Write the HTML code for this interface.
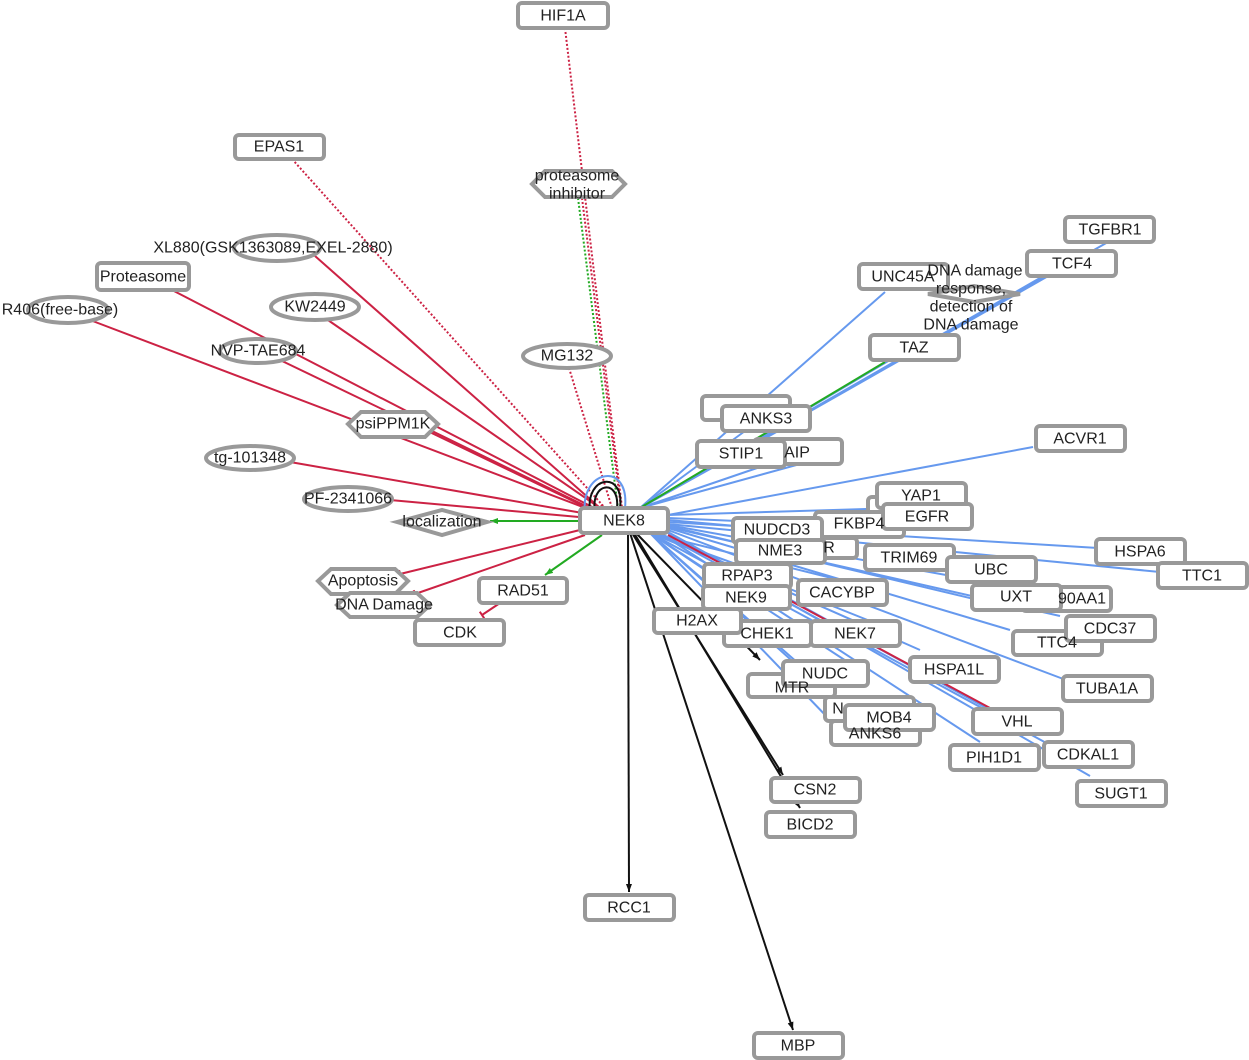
<!DOCTYPE html>
<html><head><meta charset="utf-8"><style>
html,body{margin:0;padding:0;background:#fff;width:1249px;height:1060px;overflow:hidden}
svg text{font-family:"Liberation Sans",sans-serif;font-size:16px;fill:#222;text-anchor:middle;dominant-baseline:central}
.n{fill:#fff;stroke:#999;stroke-width:4}
.b{stroke:#6699ee;stroke-width:2;fill:none}
.r{stroke:#cc2244;stroke-width:2;fill:none}
.rd{stroke:#cc2244;stroke-width:2;fill:none;stroke-dasharray:2 2}
.gd{stroke:#22aa22;stroke-width:2;fill:none;stroke-dasharray:2 2}
.g{stroke:#22aa22;stroke-width:2;fill:none}
.k{stroke:#111;stroke-width:2;fill:none}
</style></head><body>
<svg width="1249" height="1060" viewBox="0 0 1249 1060">
<defs>
<marker id="ak" markerUnits="userSpaceOnUse" markerWidth="9" markerHeight="9" refX="8" refY="4" orient="auto"><path d="M0,1 L8,4 L0,7z" fill="#111"/></marker>
<marker id="ag" markerUnits="userSpaceOnUse" markerWidth="9" markerHeight="9" refX="8" refY="4" orient="auto"><path d="M0,1 L8,4 L0,7z" fill="#22aa22"/></marker>
<marker id="tb" markerUnits="userSpaceOnUse" markerWidth="4" markerHeight="10" refX="2" refY="5" orient="auto"><path d="M2,1 L2,9" stroke="#cc2244" stroke-width="2"/></marker>
</defs>
<path class="rd" d="M565,28 L622,508"/>
<path class="gd" d="M578,198 L618,508"/>
<path class="rd" d="M582,198 L621,508"/>
<path class="rd" d="M292,159 L605,508"/>
<path class="rd" d="M569,368 L612,508"/>
<g class="r" marker-end="url(#tb)">
<path d="M315,256 L600,508"/><path d="M172,290 L598,510"/><path d="M90,320 L596,512"/>
<path d="M325,318 L600,508"/><path d="M280,360 L596,512"/><path d="M430,430 L598,512"/>
<path d="M290,462 L594,515"/><path d="M390,500 L590,518"/>
<path d="M580,530 L400,574"/><path d="M585,535 L415,594"/><path d="M500,603 L482,615"/>
</g>
<path class="g" d="M580,521 L490,521" marker-end="url(#ag)"/>
<path class="g" d="M602,535 L545,575" marker-end="url(#ag)"/>
<path class="b" d="M585,512 C580,470 630,460 625,508"/>
<path class="k" d="M590,512 C585,475 625,470 620,508"/>
<path class="k" d="M595,512 C590,482 620,478 617,508"/>
<g class="k" marker-end="url(#ak)">
<path d="M628,533 L629,892"/><path d="M630,533 L793,1030"/><path d="M632,533 L783,775"/><path d="M634,533 L800,808"/>
<path d="M636,533 L760,660"/>
</g>
<g class="b">
<path d="M640,508 L885,292"/><path d="M640,508 L1045,276"/><path d="M640,508 L1040,278"/><path d="M640,508 L1108,242"/>
<path d="M640,508 L890,360"/><path d="M640,508 L760,420"/><path d="M640,508 L780,430"/><path d="M640,508 L800,464"/>
<path d="M640,508 L760,467"/><path d="M668,515 L1033,447"/><path d="M668,515 L900,508"/><path d="M668,518 L920,529"/>
<path d="M668,520 L860,537"/><path d="M668,522 L1098,548"/><path d="M668,524 L1160,572"/><path d="M668,525 L985,582"/>
<path d="M668,526 L1020,610"/><path d="M668,527 L1060,616"/><path d="M668,528 L1010,630"/><path d="M668,530 L1066,680"/>
<path d="M668,532 L990,710"/><path d="M668,533 L1090,776"/><path d="M660,533 L1050,745"/><path d="M660,533 L980,742"/>
<path d="M655,533 L920,650"/><path d="M650,533 L860,670"/><path d="M650,533 L840,700"/><path d="M650,533 L830,720"/>
<path d="M650,533 L800,668"/><path d="M650,533 L780,580"/><path d="M650,533 L750,600"/><path d="M650,533 L880,590"/>
<path d="M650,533 L830,630"/><path d="M650,533 L880,625"/>
</g>
<path class="g" d="M640,508 L885,362"/>
<path class="r" d="M668,535 L990,708"/>
<g class="n">
<rect x="518" y="3" width="90" height="25" rx="4"/>
<rect x="235" y="135" width="89" height="24" rx="4"/>
<rect x="97" y="263" width="92" height="27" rx="4"/>
<rect x="1065" y="217" width="89" height="25" rx="4"/>
<rect x="1027" y="251" width="89" height="25" rx="4"/>
<rect x="859" y="264" width="89" height="25" rx="4"/>
<rect x="870" y="335" width="89" height="25" rx="4"/>
<rect x="702" y="396" width="88" height="24" rx="4"/>
<rect x="722" y="406" width="88" height="25" rx="4"/>
<rect x="754" y="439" width="88" height="25" rx="4"/>
<rect x="697" y="441" width="88" height="26" rx="4"/>
<rect x="1036" y="426" width="89" height="25" rx="4"/>
<rect x="868" y="497" width="40" height="20" rx="4"/>
<rect x="877" y="483" width="89" height="25" rx="4"/>
<rect x="815" y="512" width="89" height="25" rx="4"/>
<rect x="883" y="504" width="89" height="25" rx="4"/>
<rect x="790" y="538" width="67" height="20" rx="4"/>
<rect x="733" y="518" width="89" height="25" rx="4"/>
<rect x="736" y="540" width="89" height="23" rx="4"/>
<rect x="865" y="545" width="89" height="25" rx="4"/>
<rect x="1096" y="539" width="89" height="25" rx="4"/>
<rect x="1158" y="563" width="89" height="25" rx="4"/>
<rect x="1022" y="587" width="89" height="24" rx="4"/>
<rect x="947" y="557" width="89" height="25" rx="4"/>
<rect x="972" y="585" width="89" height="25" rx="4"/>
<rect x="704" y="564" width="87" height="24" rx="4"/>
<rect x="703" y="586" width="87" height="23" rx="4"/>
<rect x="798" y="580" width="89" height="25" rx="4"/>
<rect x="724" y="621" width="87" height="25" rx="4"/>
<rect x="654" y="609" width="87" height="24" rx="4"/>
<rect x="811" y="621" width="89" height="25" rx="4"/>
<rect x="1013" y="631" width="89" height="24" rx="4"/>
<rect x="1066" y="616" width="89" height="25" rx="4"/>
<rect x="910" y="657" width="89" height="25" rx="4"/>
<rect x="1063" y="676" width="89" height="25" rx="4"/>
<rect x="748" y="674" width="87" height="23" rx="4"/>
<rect x="783" y="661" width="85" height="25" rx="4"/>
<rect x="831" y="721" width="89" height="24" rx="4"/>
<rect x="825" y="697" width="89" height="24" rx="4"/>
<rect x="845" y="705" width="89" height="25" rx="4"/>
<rect x="973" y="709" width="89" height="25" rx="4"/>
<rect x="950" y="745" width="89" height="25" rx="4"/>
<rect x="1044" y="742" width="89" height="25" rx="4"/>
<rect x="1077" y="781" width="89" height="25" rx="4"/>
<rect x="771" y="778" width="89" height="24" rx="4"/>
<rect x="766" y="812" width="89" height="25" rx="4"/>
<rect x="585" y="895" width="89" height="25" rx="4"/>
<rect x="754" y="1033" width="89" height="25" rx="4"/>
<rect x="580" y="508" width="88" height="25" rx="4"/>
<rect x="479" y="578" width="88" height="25" rx="4"/>
<rect x="415" y="620" width="89" height="25" rx="4"/>
<ellipse cx="277" cy="248" rx="43" ry="13"/>
<ellipse cx="315" cy="307" rx="44" ry="13"/>
<ellipse cx="68" cy="310" rx="40" ry="13"/>
<ellipse cx="567" cy="356" rx="44" ry="12"/>
<ellipse cx="258" cy="351" rx="38" ry="12"/>
<ellipse cx="250" cy="458" rx="44" ry="12"/>
<ellipse cx="348" cy="499" rx="44" ry="12"/>
<path d="M532,184 L545,171 L612,171 L625,184 L612,197 L545,197z"/>
<path d="M348,424 L361,412 L425,412 L438,424 L425,437 L361,437z"/>
<path d="M397,522 L442,510 L487,522 L442,535z"/>
<path d="M318,581 L331,569 L395,569 L408,581 L395,594 L331,594z"/>
<path d="M337,605 L350,593 L417,593 L430,605 L417,617 L350,617z"/>
<path d="M928,294 L974,286 L1020,294 L974,302z"/>
</g>
<text x="563" y="16">HIF1A</text><text x="279" y="147">EPAS1</text>
<text x="273" y="248">XL880(GSK1363089,EXEL-2880)</text>
<text x="143" y="277">Proteasome</text><text x="315" y="307">KW2449</text>
<text x="60" y="310">R406(free-base)</text><text x="567" y="356">MG132</text>
<text x="258" y="351">NVP-TAE684</text><text x="393" y="424">psiPPM1K</text>
<text x="250" y="458">tg-101348</text><text x="348" y="499">PF-2341066</text>
<text x="442" y="522">localization</text><text x="363" y="581">Apoptosis</text>
<text x="384" y="605">DNA Damage</text><text x="523" y="591">RAD51</text><text x="460" y="633">CDK</text>
<text x="577" y="176">proteasome</text><text x="577" y="194">inhibitor</text>
<text x="624" y="521">NEK8</text>
<text x="1110" y="230">TGFBR1</text><text x="1072" y="264">TCF4</text>
<text x="975" y="271">DNA damage</text><text x="971" y="289">response,</text><text x="971" y="307">detection of</text><text x="971" y="325">DNA damage</text>
<text x="903" y="277">UNC45A</text><text x="914" y="348">TAZ</text>
<text x="766" y="419">ANKS3</text><text x="797" y="453">AIP</text><text x="741" y="454">STIP1</text>
<text x="1080" y="439">ACVR1</text><text x="921" y="496">YAP1</text><text x="859" y="524">FKBP4</text>
<text x="927" y="517">EGFR</text><text x="777" y="530">NUDCD3</text><text x="780" y="551">NME3</text><text x="829" y="548">R</text>
<text x="909" y="558">TRIM69</text><text x="1140" y="552">HSPA6</text><text x="1202" y="576">TTC1</text>
<text x="1082" y="599">90AA1</text>
<text x="991" y="570">UBC</text><text x="1016" y="597">UXT</text><text x="747" y="576">RPAP3</text>
<text x="746" y="598">NEK9</text><text x="842" y="593">CACYBP</text><text x="767" y="634">CHEK1</text>
<text x="697" y="621">H2AX</text><text x="855" y="634">NEK7</text><text x="1057" y="643">TTC4</text>
<text x="1110" y="629">CDC37</text><text x="954" y="670">HSPA1L</text><text x="1107" y="689">TUBA1A</text>
<text x="792" y="688">MTR</text>
<text x="825" y="674">NUDC</text><text x="875" y="734">ANKS6</text><text x="838" y="709">N</text><text x="889" y="718">MOB4</text>
<text x="1017" y="722">VHL</text><text x="994" y="758">PIH1D1</text><text x="1088" y="755">CDKAL1</text>
<text x="1121" y="794">SUGT1</text><text x="815" y="790">CSN2</text><text x="810" y="825">BICD2</text>
<text x="629" y="908">RCC1</text><text x="798" y="1046">MBP</text>
</svg>
</body></html>
